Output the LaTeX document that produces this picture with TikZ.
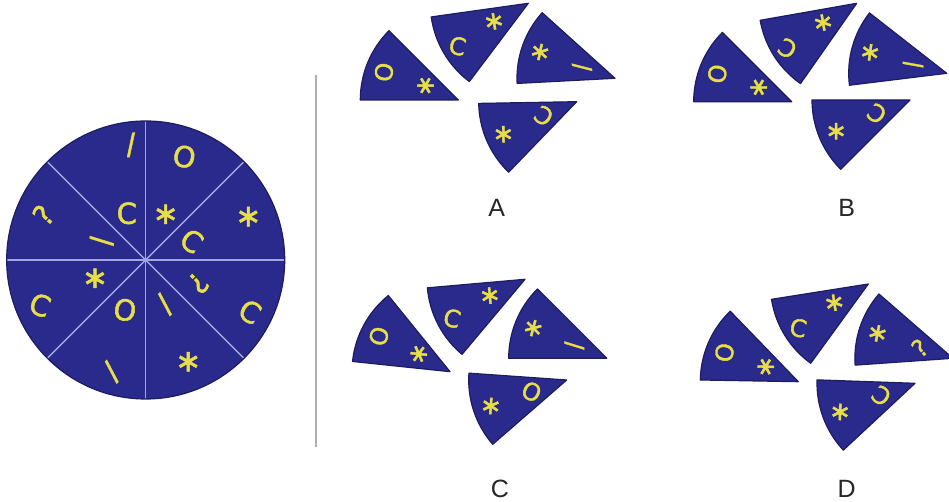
\documentclass[tikz,border=0pt]{standalone}
\usepackage{fontspec}
\setmainfont{Liberation Sans}
\newfontfamily\glyphfont{DejaVu Sans}[FakeBold=1.6]
\definecolor{discblue}{RGB}{42,42,140}
\definecolor{discedge}{RGB}{28,28,96}
\definecolor{glyphyellow}{RGB}{232,222,72}
\definecolor{spokeline}{RGB}{165,165,228}
\definecolor{rulegray}{RGB}{175,175,175}
\tikzset{
  piece/.style={fill=discblue,draw=discedge,line width=0.6pt,line join=round},
  spoke/.style={draw=spokeline,line width=0.7pt},
  glyph/.style={text=glyphyellow,inner sep=0pt,font=\glyphfont\fontsize{14.5}{15}\selectfont},
  starglyph/.style={glyph,font=\glyphfont\fontsize{15.5}{16}\selectfont},
  smallglyph/.style={glyph,font=\glyphfont\fontsize{12}{13}\selectfont},
  smallstar/.style={glyph,font=\glyphfont\fontsize{13}{14}\selectfont},
  optlabel/.style={text=black!85,inner sep=0pt,font=\fontsize{12.5}{14}\selectfont}
}
\begin{document}
\begin{tikzpicture}[x=0.5pt,y=0.5pt]
\fill[white] (0,0) rectangle (949,502);
\useasboundingbox (0,0) rectangle (949,502);
% the disc
\coordinate (ctr) at (145.7,242);
\fill[discblue] (ctr) circle[radius=139];
\foreach \a in {0,45,...,315} \draw[spoke] (ctr) -- ++(\a:139);
\draw[discedge,line width=0.6pt] (ctr) circle[radius=139];
\begin{scope}[shift={(ctr)}]
  \node[starglyph] (s0o) at (22.9:111.4) {∗};
  \node[glyph,rotate=-35] (s0i) at (22.4:49.8) {C};
  \node[glyph,rotate=-10] (s1o) at (69.5:110.3) {O};
  \node[starglyph] (s1i) at (66.4:49.9) {∗};
  \node[glyph,rotate=5] (s2o) at (97.3:116) {/};
  \node[glyph] (s2i) at (112.1:50.4) {C};
  \node[glyph,rotate=50] (s3o) at (156.3:111.9) {?};
  \node[glyph,rotate=90] (s3i) at (156.6:47.9) {/};
  \node[glyph,rotate=-20] (s4o) at (203.1:114.9) {C};
  \node[starglyph] (s4i) at (199.8:53.9) {∗};
  \node[glyph,rotate=45] (s5o) at (253.1:116.8) {/};
  \node[glyph,rotate=-10] (s5i) at (247.5:54.1) {O};
  \node[starglyph] (s6o) at (292.7:110.3) {∗};
  \node[glyph,rotate=45] (s6i) at (293.5:48.3) {/};
  \node[glyph,rotate=-30] (s7o) at (333.6:116.4) {C};
  \node[glyph,rotate=-135] (s7i) at (336.1:57.5) {?};
\end{scope}
% divider
\coordinate (ruletop) at (316,427);
\coordinate (rulebot) at (316,55);
\draw[rulegray,line width=0.8pt] (ruletop) -- (rulebot);
% option A
\begin{scope}[shift={(458.3,402)},rotate=90]
  \draw[piece] (0,0) -- (45:98) arc[start angle=45,delta angle=45,radius=98] -- cycle;
  \node[smallglyph,rotate=80] (a1o) at (69.5:79.4) {O};
  \node[smallstar,rotate=90] (a1i) at (66.4:35.9) {∗};
\end{scope}
\begin{scope}[shift={(528.3,498.7)},rotate=8]
  \draw[piece] (0,0) -- (180:98) arc[start angle=180,delta angle=45,radius=98] -- cycle;
  \node[smallglyph,rotate=-12] (a2o) at (203.1:82.7) {C};
  \node[smallstar,rotate=8] (a2i) at (199.8:38.8) {∗};
\end{scope}
\begin{scope}[shift={(615,423.7)},rotate=-132]
  \draw[piece] (0,0) -- (270:98) arc[start angle=270,delta angle=45,radius=98] -- cycle;
  \node[smallstar,rotate=-132] (a3o) at (292.7:79.4) {∗};
  \node[smallglyph,rotate=-87] (a3i) at (293.5:34.8) {/};
\end{scope}
\begin{scope}[shift={(576.7,400.3)},rotate=181]
  \draw[piece] (0,0) -- (0:98) arc[start angle=0,delta angle=45,radius=98] -- cycle;
  \node[smallstar,rotate=181] (a4o) at (22.9:80.2) {∗};
  \node[smallglyph,rotate=146] (a4i) at (22.4:35.9) {C};
\end{scope}
\node[optlabel] (labA) at (496.7,294) {A};
% option B
\begin{scope}[shift={(791.7,400.3)},rotate=90]
  \draw[piece] (0,0) -- (45:98) arc[start angle=45,delta angle=45,radius=98] -- cycle;
  \node[smallglyph,rotate=80] (b1o) at (69.5:79.4) {O};
  \node[smallstar,rotate=90] (b1i) at (66.4:35.9) {∗};
\end{scope}
\begin{scope}[shift={(856.7,498.7)},rotate=10]
  \draw[piece] (0,0) -- (180:98) arc[start angle=180,delta angle=45,radius=98] -- cycle;
  \node[smallglyph,rotate=150] (b2o) at (203.1:82.7) {C};
  \node[smallstar,rotate=10] (b2i) at (199.8:38.8) {∗};
\end{scope}
\begin{scope}[shift={(946.7,428.7)},rotate=-128]
  \draw[piece] (0,0) -- (270:98) arc[start angle=270,delta angle=45,radius=98] -- cycle;
  \node[smallstar,rotate=-128] (b3o) at (292.7:79.4) {∗};
  \node[smallglyph,rotate=-83] (b3i) at (293.5:34.8) {/};
\end{scope}
\begin{scope}[shift={(910,402)},rotate=180]
  \draw[piece] (0,0) -- (0:98) arc[start angle=0,delta angle=45,radius=98] -- cycle;
  \node[smallstar,rotate=180] (b4o) at (22.9:80.2) {∗};
  \node[smallglyph,rotate=145] (b4i) at (22.4:35.9) {C};
\end{scope}
\node[optlabel] (labB) at (846.7,294) {B};
% option C
\begin{scope}[shift={(450,130.3)},rotate=84]
  \draw[piece] (0,0) -- (45:98) arc[start angle=45,delta angle=45,radius=98] -- cycle;
  \node[smallglyph,rotate=74] (c1o) at (69.5:79.4) {O};
  \node[smallstar,rotate=84] (c1i) at (66.4:35.9) {∗};
\end{scope}
\begin{scope}[shift={(525,222.7)},rotate=5]
  \draw[piece] (0,0) -- (180:98) arc[start angle=180,delta angle=45,radius=98] -- cycle;
  \node[smallglyph,rotate=-15] (c2o) at (203.1:82.7) {C};
  \node[smallstar,rotate=5] (c2i) at (199.8:38.8) {∗};
\end{scope}
\begin{scope}[shift={(606.7,143.7)},rotate=-135]
  \draw[piece] (0,0) -- (270:98) arc[start angle=270,delta angle=45,radius=98] -- cycle;
  \node[smallstar,rotate=-135] (c3o) at (292.7:79.4) {∗};
  \node[smallglyph,rotate=-90] (c3i) at (293.5:34.8) {/};
\end{scope}
\begin{scope}[shift={(566.7,122)},rotate=176]
  \draw[piece] (0,0) -- (0:98) arc[start angle=0,delta angle=45,radius=98] -- cycle;
  \node[smallstar,rotate=176] (c4o) at (22.9:80.2) {∗};
  \node[smallglyph,rotate=-25] (c4i) at (22.4:37) {O};
\end{scope}
\node[optlabel] (labC) at (500,13) {C};
% option D
\begin{scope}[shift={(798.3,120.3)},rotate=89]
  \draw[piece] (0,0) -- (45:98) arc[start angle=45,delta angle=45,radius=98] -- cycle;
  \node[smallglyph,rotate=79] (d1o) at (69.5:79.4) {O};
  \node[smallstar,rotate=89] (d1i) at (66.4:35.9) {∗};
\end{scope}
\begin{scope}[shift={(868.3,218)},rotate=9]
  \draw[piece] (0,0) -- (180:98) arc[start angle=180,delta angle=45,radius=98] -- cycle;
  \node[smallglyph,rotate=-11] (d2o) at (203.1:82.7) {C};
  \node[smallstar,rotate=9] (d2i) at (199.8:38.8) {∗};
\end{scope}
\begin{scope}[shift={(952.9,143.7)},rotate=-131]
  \draw[piece] (0,0) -- (270:98) arc[start angle=270,delta angle=45,radius=98] -- cycle;
  \node[smallstar,rotate=-131] (d3o) at (292.7:79.4) {∗};
  \node[smallglyph,rotate=40] (d3i) at (293.5:34.8) {?};
\end{scope}
\begin{scope}[shift={(915,118.7)},rotate=178]
  \draw[piece] (0,0) -- (0:98) arc[start angle=0,delta angle=45,radius=98] -- cycle;
  \node[smallstar,rotate=178] (d4o) at (22.9:80.2) {∗};
  \node[smallglyph,rotate=143] (d4i) at (22.4:35.9) {C};
\end{scope}
\node[optlabel] (labD) at (846.7,13) {D};
\end{tikzpicture}
\end{document}
